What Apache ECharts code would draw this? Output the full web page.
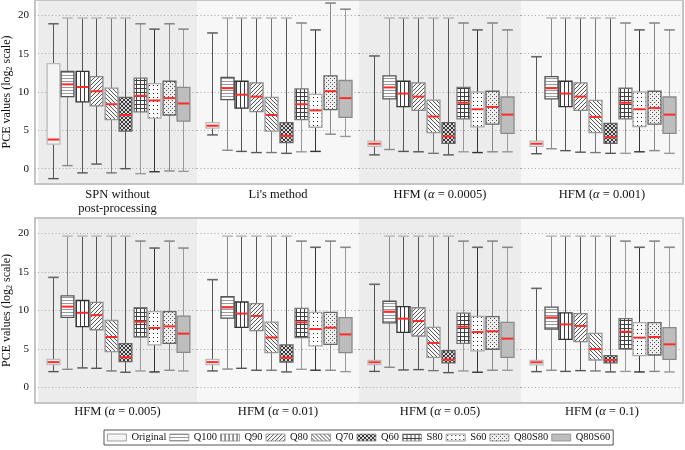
<!DOCTYPE html>
<html><head><meta charset="utf-8">
<script src="https://cdn.jsdelivr.net/npm/echarts@6/dist/echarts.min.js"></script>
<style>html,body{margin:0;padding:0;background:#fff}#c{width:685px;height:450px}</style>
</head><body><div id="c"></div>
<script>
// ---------------- data ----------------
const methods = ['Original','Q100','Q90','Q80','Q70','Q60','S80','S60','Q80S80','Q80S60'];
const panelTitles = [
  'SPN without\npost-processing', "Li's method",
  'HFM ({a|α} = 0.0005)', 'HFM ({a|α} = 0.001)',
  'HFM ({a|α} = 0.005)', 'HFM ({a|α} = 0.01)',
  'HFM ({a|α} = 0.05)', 'HFM ({a|α} = 0.1)'
];
const yTicks = [0, 5, 10, 15, 20];
// each entry: [low whisker, Q1, median, Q3, high whisker] (log2 PCE)
const spnStats = [
  [-1.3, 3.2, 3.8, 13.7, 18.9],
  [0.4, 9.4, 11.0, 12.7, 19.65],
  [-0.55, 8.7, 10.65, 12.7, 19.65],
  [0.6, 8.2, 10.1, 12.0, 19.65],
  [-0.55, 6.4, 8.4, 10.5, 19.65],
  [0.0, 4.9, 7.0, 9.3, 19.65],
  [-0.65, 7.4, 9.5, 11.8, 18.9],
  [-0.4, 6.6, 8.9, 11.1, 18.2],
  [-0.3, 7.0, 9.2, 11.4, 18.9],
  [-0.35, 6.2, 8.5, 10.6, 18.2]
];
const liStats = [
  [4.4, 5.3, 5.6, 6.0, 17.7],
  [2.4, 9.0, 10.5, 11.9, 19.65],
  [2.25, 7.9, 9.65, 11.4, 19.65],
  [2.1, 7.45, 9.4, 11.2, 19.65],
  [2.1, 4.9, 7.0, 9.3, 19.65],
  [2.0, 3.4, 4.3, 6.0, 19.65],
  [2.2, 6.4, 8.4, 10.4, 19.0],
  [2.25, 5.4, 7.6, 9.7, 18.1],
  [4.5, 7.7, 10.1, 12.1, 21.6],
  [4.2, 6.7, 9.2, 11.5, 20.8]
];
const hfm0005Stats = [
  [1.8, 2.9, 3.25, 3.6, 14.7],
  [2.5, 9.1, 10.6, 12.1, 19.65],
  [2.25, 8.1, 9.8, 11.4, 19.65],
  [2.2, 7.6, 9.4, 11.2, 19.65],
  [2.0, 4.7, 6.8, 8.95, 19.65],
  [1.8, 3.3, 4.2, 6.0, 19.65],
  [2.2, 6.5, 8.6, 10.6, 19.0],
  [2.1, 5.45, 7.75, 10.0, 18.1],
  [2.2, 5.8, 8.05, 10.1, 19.0],
  [2.2, 4.6, 7.05, 9.35, 18.1]
];
const hfm001Stats = [
  [1.95, 2.9, 3.25, 3.6, 14.6],
  [2.6, 9.1, 10.5, 12.0, 19.65],
  [2.35, 8.1, 9.8, 11.4, 19.65],
  [2.15, 7.6, 9.4, 11.2, 19.65],
  [2.1, 4.7, 6.75, 8.9, 19.65],
  [2.0, 3.3, 4.1, 5.9, 19.65],
  [2.0, 6.5, 8.6, 10.5, 19.0],
  [2.2, 5.5, 7.75, 10.0, 18.1],
  [2.35, 5.8, 7.9, 10.1, 19.0],
  [2.0, 4.6, 7.05, 9.35, 18.1]
];
const hfm005Stats = [
  [2.07, 2.98, 3.3, 3.67, 14.3],
  [2.37, 9.1, 10.5, 11.9, 19.65],
  [2.55, 7.9, 9.7, 11.3, 19.65],
  [2.5, 7.5, 9.4, 11.05, 19.65],
  [2.16, 4.66, 6.56, 8.7, 19.65],
  [1.99, 3.37, 3.93, 5.7, 19.65],
  [2.16, 6.56, 8.55, 10.36, 19.0],
  [2.03, 5.53, 7.73, 9.85, 18.1],
  [2.25, 5.74, 7.94, 9.85, 19.0],
  [2.16, 4.58, 7.0, 9.28, 18.1]
];
const hfm01Stats = [
  [2.16, 2.98, 3.3, 3.67, 14.0],
  [2.4, 9.0, 10.4, 11.8, 19.65],
  [2.5, 7.8, 9.6, 11.1, 19.65],
  [2.25, 7.4, 9.3, 10.9, 19.65],
  [2.25, 4.53, 6.5, 8.5, 19.65],
  [2.03, 3.32, 3.89, 5.53, 19.65],
  [2.37, 6.48, 8.46, 10.28, 19.0],
  [2.25, 5.4, 7.6, 9.76, 18.2],
  [2.25, 5.6, 7.77, 9.76, 19.0],
  [2.07, 4.53, 6.9, 9.07, 18.2]
];
const hfm05Stats = [
  [2.1, 2.98, 3.28, 3.54, 13.4],
  [2.63, 8.4, 9.85, 11.2, 19.65],
  [2.29, 7.17, 8.94, 10.5, 19.65],
  [2.33, 6.69, 8.64, 10.36, 19.65],
  [2.2, 3.93, 5.79, 7.8, 19.65],
  [1.94, 3.2, 3.63, 4.79, 19.65],
  [2.16, 5.74, 7.9, 9.67, 19.0],
  [1.99, 4.75, 7.2, 9.24, 18.2],
  [2.25, 4.97, 7.3, 9.2, 19.0],
  [2.25, 3.93, 6.35, 8.46, 18.2]
];
const hfm1Stats = [
  [2.07, 2.94, 3.28, 3.54, 12.87],
  [2.25, 7.6, 9.1, 10.45, 19.65],
  [2.1, 6.26, 8.2, 9.7, 19.65],
  [2.2, 5.96, 8.0, 9.6, 19.65],
  [2.16, 3.58, 5.0, 7.04, 19.65],
  [2.03, 3.2, 3.54, 4.14, 19.65],
  [2.1, 5.0, 7.25, 8.94, 19.0],
  [2.03, 4.14, 6.48, 8.42, 18.2],
  [2.1, 4.23, 6.56, 8.42, 19.0],
  [2.03, 3.67, 5.61, 7.77, 18.2]
];
const panelStats = [spnStats, liStats, hfm0005Stats, hfm001Stats, hfm005Stats, hfm01Stats, hfm05Stats, hfm1Stats];

// ---------------- styles ----------------
function tile(size, bg, fg, pix) {
  const c = document.createElement('canvas');
  c.width = size; c.height = size;
  const g = c.getContext('2d');
  g.fillStyle = bg; g.fillRect(0, 0, size, size);
  g.fillStyle = fg;
  pix.forEach(p => g.fillRect(p[0], p[1], 1, 1));
  return { image: c, repeat: 'repeat' };
}
const fills = [
  '#f4f4f4',
  tile(3, '#fbfbfb', '#9a9a9a', [[0,0],[1,0],[2,0]]),
  tile(4, '#fbfbfb', '#3a3a3a', [[0,0],[0,1],[0,2],[0,3]]),
  tile(4, '#f8f8f8', '#555555', [[3,0],[2,1],[1,2],[0,3]]),
  tile(4, '#f8f8f8', '#555555', [[0,0],[1,1],[2,2],[3,3]]),
  tile(4, '#d8d8d8', '#3a3a3a', [[0,0],[1,1],[2,2],[3,3],[3,0],[2,1],[1,2],[0,3]]),
  tile(4, '#fafafa', '#404040', [[0,0],[1,0],[2,0],[3,0],[0,1],[0,2],[0,3]]),
  tile(4, '#fcfcfc', '#202020', [[1,1]]),
  tile(4, '#eeeeee', '#505050', [[0,0],[2,2]]),
  '#bdbdbd'
];
const boxBorder = ['#bbbbbb','#555555','#333333','#888888','#999999','#666666','#777777','#aaaaaa','#666666','#8a8a8a'];
const whiskerColor = ['#555555','#8a8a8a','#555555','#555555','#777777','#555555','#999999','#333333','#888888','#999999'];
const capColor = ['#666666','#bbbbbb','#bbbbbb','#bbbbbb','#bbbbbb','#bbbbbb','#888888','#666666','#888888','#888888'];
const FONT = 'Liberation Serif';
const panelBg = ['#ececec', '#f7f7f7', '#ececec', '#f7f7f7'];

// ---------------- layout ----------------
const PANEL_LEFT = [35, 197, 359, 521];
const PANEL_W = 162;
const ROW_TOP = [0, 218];
const ROW_H = [184, 185];

function makeRender(m) {
  return function (params, api) {
    const x = api.value(0);
    const lo = api.coord([x, api.value(1)]);
    const q1 = api.coord([x, api.value(2)]);
    const md = api.coord([x, api.value(3)]);
    const q3 = api.coord([x, api.value(4)]);
    const hi = api.coord([x, api.value(5)]);
    const unit = api.size([1, 0])[0];
    const bw = unit * 0.88, cw = unit * 0.72;
    const cx = Math.round(lo[0]) + 0.5;
    return {
      type: 'group',
      children: [
        { type: 'line', shape: { x1: cx, y1: hi[1], x2: cx, y2: lo[1] }, style: { stroke: whiskerColor[m], lineWidth: 1 } },
        { type: 'line', shape: { x1: cx - cw / 2, y1: hi[1], x2: cx + cw / 2, y2: hi[1] }, style: { stroke: capColor[m], lineWidth: 1.6 } },
        { type: 'line', shape: { x1: cx - cw / 2, y1: lo[1], x2: cx + cw / 2, y2: lo[1] }, style: { stroke: whiskerColor[m], lineWidth: 1.4 } },
        { type: 'rect', shape: { x: cx - bw / 2, y: q3[1], width: bw, height: q1[1] - q3[1] }, style: { fill: fills[m], stroke: boxBorder[m], lineWidth: 1.3 } },
        { type: 'line', shape: { x1: cx - bw / 2 + 0.6, y1: md[1], x2: cx + bw / 2 - 0.6, y2: md[1] }, style: { stroke: '#ff2a2a', lineWidth: 2 } }
      ]
    };
  };
}

const grids = [], xAxes = [], yAxes = [], series = [];
for (let p = 0; p < 8; p++) {
  const row = Math.floor(p / 4), col = p % 4;
  grids.push({ left: PANEL_LEFT[col], width: PANEL_W, top: ROW_TOP[row], height: ROW_H[row], show: true, backgroundColor: panelBg[col], borderWidth: 0, containLabel: false });
  xAxes.push({
    type: 'value', gridIndex: p, min: -1, max: 9.95,
    axisLine: { show: false }, axisTick: { show: false }, axisLabel: { show: false }, splitLine: { show: false },
    name: panelTitles[p], nameLocation: 'middle', nameGap: row === 0 ? 4 : 2,
    nameTextStyle: { fontFamily: FONT, fontSize: 12.5, color: '#111', lineHeight: 14, verticalAlign: 'top',
      rich: { a: { fontFamily: FONT, fontSize: 12.5, fontStyle: 'italic', color: '#111' } } }
  });
  yAxes.push({
    type: 'value', gridIndex: p, min: -2, max: 22, splitNumber: 5,
    axisLine: { show: false }, axisTick: { show: false },
    splitLine: { show: true, lineStyle: { color: '#a6a6a6', width: 1, type: [1, 2.5] } },
    axisLabel: { show: col === 0, showMinLabel: false, showMaxLabel: false, color: '#111', fontFamily: FONT, fontSize: 11, margin: 9,
      formatter: v => (yTicks.indexOf(v) >= 0 ? String(v) : '') },
    name: col === 0 ? 'PCE values (log{s|2} scale)' : '', nameLocation: 'middle', nameGap: 24,
    nameTextStyle: { fontFamily: FONT, fontSize: 12, color: '#111',
      rich: { s: { fontFamily: FONT, fontSize: 8, color: '#111', padding: [6, 0, 0, 0] } } }
  });
  const stats = panelStats[p];
  for (let m = 0; m < methods.length; m++) {
    series.push({
      type: 'custom', name: methods[m], xAxisIndex: p, yAxisIndex: p, clip: false,
      itemStyle: { color: fills[m], borderColor: boxBorder[m] },
      encode: { x: 0, y: [1, 2, 3, 4, 5] },
      data: [[m].concat(stats[m])],
      renderItem: makeRender(m)
    });
  }
}

const chart = echarts.init(document.getElementById('c'), null, { renderer: 'canvas' });
chart.setOption({
  backgroundColor: '#ffffff',
  animation: false,
  grid: grids, xAxis: xAxes, yAxis: yAxes, series: series,
  legend: {
    left: 104, top: 430, orient: 'horizontal', icon: 'rect',
    itemWidth: 19, itemHeight: 7, itemGap: 3, padding: [2, 3],
    borderColor: '#555', borderWidth: 1, selectedMode: false,
    textStyle: { fontFamily: FONT, fontSize: 10.5, color: '#111' },
    data: methods.map((n, i) => ({ name: n, itemStyle: { color: fills[i], borderColor: '#888', borderWidth: 0.8 } }))
  },
  graphic: [0, 1].map(r => ({
    type: 'rect', z: 100, silent: true,
    shape: { x: PANEL_LEFT[0], y: ROW_TOP[r], width: PANEL_W * 4, height: ROW_H[r] },
    style: { fill: 'none', stroke: '#c4c4c4', lineWidth: 2 }
  }))
});
</script></body></html>
